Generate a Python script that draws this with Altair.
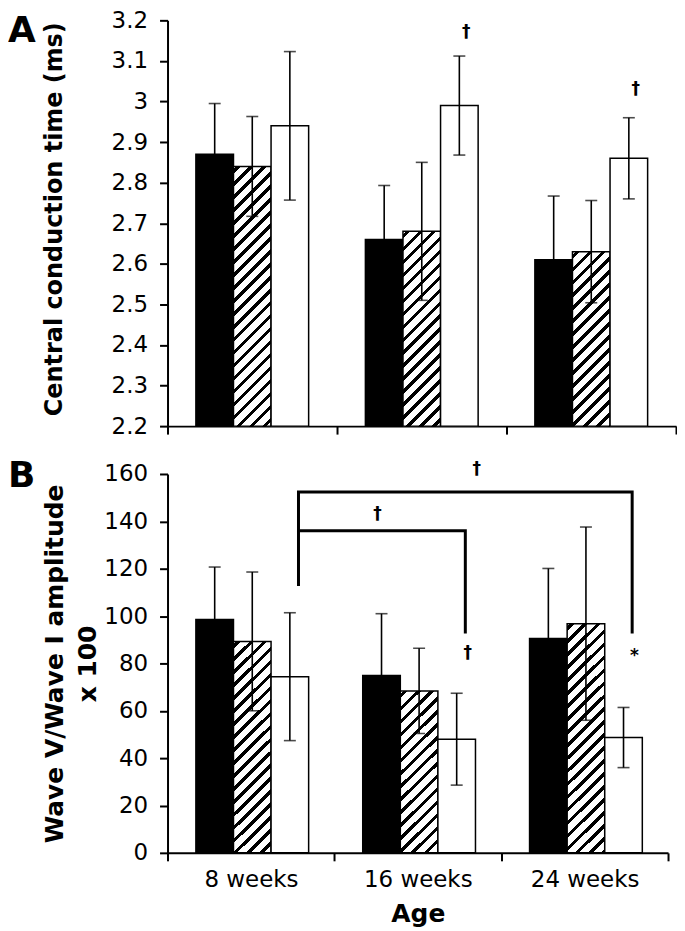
import altair as alt
import pandas as pd

# ---------------- data ----------------
ages = ["8 weeks", "16 weeks", "24 weeks"]
groups = ["Solid", "Hatched", "Open"]

# Panel A: central conduction time (ms), mean and SD
cct_solid = [2.87, 2.66, 2.61]
cct_hatched = [2.84, 2.68, 2.63]
cct_open = [2.94, 2.99, 2.86]
cct_sd_solid = [0.125, 0.133, 0.157]
cct_sd_hatched = [0.123, 0.170, 0.126]
cct_sd_open = [0.183, 0.122, 0.100]
cct_ticks = [2.2, 2.3, 2.4, 2.5, 2.6, 2.7, 2.8, 2.9, 3.0, 3.1, 3.2]

# Panel B: wave V / wave I amplitude x 100, mean and SD
amp_solid = [98.5, 74.9, 90.5]
amp_hatched = [89.3, 68.4, 96.8]
amp_open = [74.4, 48.0, 48.7]
amp_sd_solid = [22.2, 26.1, 29.6]
amp_sd_hatched = [29.3, 18.0, 40.8]
amp_sd_open = [27.0, 19.4, 12.7]
amp_ticks = [0, 20, 40, 60, 80, 100, 120, 140, 160]

# significance marks
a_sig_age = ["16 weeks", "24 weeks"]
a_sig_y = [3.172, 3.031]
a_sig_text = ["\u2020", "\u2020"]
b_sig_age = ["16 weeks", "24 weeks"]
b_sig_y = [84.2, 83.0]
b_sig_text = ["\u2020", "*"]

# comparison brackets (panel B)
br_id = ["outer", "outer", "outer", "outer", "inner", "inner", "inner"]
br_age = ["8 weeks", "8 weeks", "24 weeks", "24 weeks", "8 weeks", "16 weeks", "16 weeks"]
br_y = [113.3, 152.4, 152.4, 93.3, 136.0, 136.0, 93.3]
br_seq = [0, 1, 2, 3, 0, 1, 2]
br_sig_y_outer = [162.1]
br_sig_y_inner = [143.2]

# ---------------- styling ----------------
FONT = "DejaVu Sans"
W1, H1 = 510, 407
W2, H2 = 502, 380
PAD_OUT = 0.755


def make_df(means, sds):
    rows = []
    for g, ms, ss in zip(groups, means, sds):
        for a, m, s in zip(ages, ms, ss):
            rows.append({"age": a, "group": g, "mean": m, "lo": m - s, "hi": m + s})
    return pd.DataFrame(rows)


def hatch(w, h, period=13.0, thick=4.6, phase=3.0):
    L = w + h
    k = L / (w * w + h * h)
    stops = [alt.GradientStop(offset=0, color="white")]
    s = phase
    while s < L:
        a = round(s / L, 5)
        b = round(min((s + thick) / L, 1.0), 5)
        stops += [alt.GradientStop(offset=a, color="white"),
                  alt.GradientStop(offset=a, color="black"),
                  alt.GradientStop(offset=b, color="black"),
                  alt.GradientStop(offset=b, color="white")]
        s += period
    stops.append(alt.GradientStop(offset=1, color="white"))
    return alt.Gradient(gradient="linear", x1=0, y1=0,
                        x2=round(k * w, 5), y2=round(k * h, 5), stops=stops)


def panel(df, ymin, ymax, W, H, yticks, ytitle, title_x, title_y, title_size,
          bottom, letter, letter_x, letter_y):
    bw = (W / 3) / (3 + 2 * PAD_OUT)
    x_axis = alt.Axis(
        title="Age" if bottom else None, labels=bottom, tickBand="extent",
        tickSize=8, tickWidth=2, domainWidth=2, labelFontSize=23, labelAngle=0,
        labelPadding=8, titleFontSize=25, titlePadding=10,
    )
    x = alt.X("age:N", sort=ages,
              scale=alt.Scale(domain=ages, paddingInner=0, paddingOuter=0),
              axis=x_axis)
    xo = alt.XOffset("group:N", sort=groups,
                     scale=alt.Scale(domain=groups, paddingInner=0, paddingOuter=PAD_OUT))
    yscale = alt.Scale(domain=[ymin, ymax], zero=False, nice=False)
    y_axis = alt.Axis(
        values=yticks, format="~r", title=ytitle, titleX=title_x, titleY=title_y,
        titleBaseline="middle", titleAlign="center", titleAngle=270,
        titleLineHeight=33, titleFontSize=title_size, tickSize=8, tickWidth=2,
        domainWidth=2, labelFontSize=23, labelPadding=12,
    )

    def Y(field):
        return alt.Y(field, scale=yscale, axis=y_axis)

    base = alt.Chart(df)
    solid = base.transform_filter(alt.datum.group == "Solid").mark_bar(
        fill="black", stroke="black", strokeWidth=1.5
    ).encode(x=x, xOffset=xo, y=Y("mean:Q"), y2=alt.datum(ymin))
    layers = [solid]
    for a in ages:
        row = df[(df.group == "Hatched") & (df.age == a)].iloc[0]
        h = (row["mean"] - ymin) / (ymax - ymin) * H
        layers.append(
            base.transform_filter((alt.datum.group == "Hatched") & (alt.datum.age == a))
            .mark_bar(fill=hatch(bw, h), stroke="black", strokeWidth=1.5)
            .encode(x=x, xOffset=xo, y=Y("mean:Q"), y2=alt.datum(ymin))
        )
    layers.append(
        base.transform_filter(alt.datum.group == "Open").mark_bar(
            fill="white", stroke="black", strokeWidth=1.5
        ).encode(x=x, xOffset=xo, y=Y("mean:Q"), y2=alt.datum(ymin))
    )
    layers.append(
        base.mark_rule(color="black", strokeWidth=1.6).encode(
            x=x, xOffset=xo, y=Y("lo:Q"), y2="hi:Q")
    )
    for f in ["hi", "lo"]:
        layers.append(
            base.mark_tick(color="black", thickness=1.6, size=12).encode(
                x=x, xOffset=xo, y=Y(f + ":Q"))
        )
    layers.append(
        alt.Chart(pd.DataFrame({"t": [letter]})).mark_text(
            font=FONT, fontSize=36, fontWeight="bold", align="left", baseline="top",
            color="black"
        ).encode(text="t:N", x=alt.value(letter_x), y=alt.value(letter_y))
    )
    return layers, x, xo, Y


# ---------------- panel A ----------------
dfA = make_df([cct_solid, cct_hatched, cct_open], [cct_sd_solid, cct_sd_hatched, cct_sd_open])
layersA, xA, xoA, YA = panel(dfA, 2.2, 3.2, W1, H1, cct_ticks,
                             "Central conduction time (ms)", -113, 199, 24, False,
                             "A", -160, -6)
sigA = pd.DataFrame({"age": a_sig_age, "group": ["Open"] * 2, "y": a_sig_y, "t": a_sig_text})
layersA.append(
    alt.Chart(sigA).mark_text(font=FONT, fontSize=17, fontWeight="bold", dx=7,
                              baseline="middle", color="black")
    .encode(x=xA, xOffset=xoA, y=YA("y:Q"), text="t:N")
)
top = alt.layer(*layersA).properties(width=W1, height=H1)

# ---------------- panel B ----------------
dfB = make_df([amp_solid, amp_hatched, amp_open], [amp_sd_solid, amp_sd_hatched, amp_sd_open])
layersB, xB, xoB, YB = panel(dfB, 0, 160, W2, H2, amp_ticks,
                             ["Wave V/Wave I amplitude", "x 100"], -113, 190, 25, True,
                             "B", -160, -15)
sigB = pd.DataFrame({"age": b_sig_age, "group": ["Open"] * 2, "y": b_sig_y, "t": b_sig_text})
layersB.append(
    alt.Chart(sigB).mark_text(font=FONT, fontSize=17, fontWeight="bold", dx=11,
                              baseline="middle", color="black")
    .encode(x=xB, xOffset=xoB, y=YB("y:Q"), text="t:N")
)
brk = pd.DataFrame({"id": br_id, "age": br_age, "y": br_y, "seq": br_seq})
x_br = alt.X("age:N", sort=ages, bandPosition=0.785,
             scale=alt.Scale(domain=ages, paddingInner=0, paddingOuter=0))
layersB.append(
    alt.Chart(brk).mark_line(color="black", strokeWidth=3, strokeCap="square")
    .encode(x=x_br, y=YB("y:Q"), detail="id:N", order="seq:Q")
)
layersB.append(
    alt.Chart(pd.DataFrame({"age": ["16 weeks"], "group": ["Open"], "y": br_sig_y_outer, "t": ["\u2020"]}))
    .mark_text(font=FONT, fontSize=17, fontWeight="bold", dx=20, baseline="middle", color="black")
    .encode(x=xB, xOffset=xoB, y=YB("y:Q"), text="t:N")
)
layersB.append(
    alt.Chart(pd.DataFrame({"age": ["16 weeks"], "group": ["Solid"], "y": br_sig_y_inner, "t": ["\u2020"]}))
    .mark_text(font=FONT, fontSize=17, fontWeight="bold", dx=-4, baseline="middle", color="black")
    .encode(x=xB, xOffset=xoB, y=YB("y:Q"), text="t:N")
)
bottom = alt.layer(*layersB).properties(width=W2, height=H2)

chart = (
    alt.vconcat(top, bottom, spacing=48, bounds="flush")
    .properties(padding={"left": 0, "top": 0, "right": 0, "bottom": 0})
    .configure_view(strokeWidth=0)
    .configure_axis(
        labelFont=FONT, titleFont=FONT, labelColor="black", titleColor="black",
        domainColor="black", tickColor="black", grid=False, titleFontWeight="bold",
    )
)

chart.save("out.html", embed_options={"renderer": "svg", "actions": False})
